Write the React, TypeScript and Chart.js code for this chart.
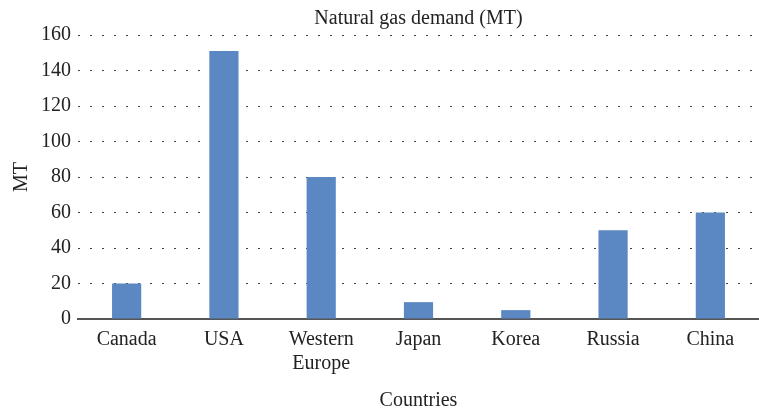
import React, { useEffect, useRef } from "react";
import { Chart, registerables } from "chart.js";

Chart.register(...registerables);

const categories: (string | string[])[] = ["Canada", "USA", ["Western", "Europe"], "Japan", "Korea", "Russia", "China"];
const demandValues = [20, 151, 80, 9.5, 5, 50, 60];
const chartTitle = "Natural gas demand (MT)";
const xTitle = "Countries";
const yTitle = "MT";

const FONT = "'Liberation Serif', 'DejaVu Serif', serif";

export default function App() {
  const ref = useRef<HTMLCanvasElement | null>(null);
  useEffect(() => {
    if (!ref.current) return;
    const chart = new Chart(ref.current, {
      type: "bar",
      data: {
        labels: categories as any,
        datasets: [
          {
            label: "Demand",
            data: demandValues,
            backgroundColor: "#5b87c3",
            borderWidth: 0,
            barPercentage: 0.3,
            categoryPercentage: 1,
          },
        ],
      },
      options: {
        responsive: false,
        animation: false,
        maintainAspectRatio: false,
        layout: { padding: { left: 10, right: 0, top: 7, bottom: 0 } },
        plugins: {
          legend: { display: false },
          tooltip: { enabled: false },
          title: { display: false },
        },
        scales: {
          x: {
            position: "bottom",
            grid: { display: false, drawTicks: false },
            border: { display: true, color: "#555", width: 2 },
            ticks: {
              color: "#222",
              font: { family: FONT, size: 20 },
              padding: 9,
              maxRotation: 0,
              autoSkip: false,
            },
            title: {
              display: true,
              text: xTitle,
              color: "#222",
              font: { family: FONT, size: 20 },
              padding: { top: 4, bottom: 0 },
            },
          },
          x2: {
            position: "top",
            type: "category",
            grid: { display: false, drawTicks: false },
            border: { display: false },
            ticks: { display: false },
            title: {
              display: true,
              text: chartTitle,
              color: "#222",
              font: { family: FONT, size: 20 },
              padding: { top: 0, bottom: 4 },
            },
          },
          y: {
            min: 0,
            max: 160,
            ticks: {
              stepSize: 20,
              color: "#222",
              font: { family: FONT, size: 20 },
              padding: 7,
            },
            grid: {
              color: "#444",
              lineWidth: 1,
              drawTicks: false,
            },
            border: { display: false, dash: [2, 10] },
            title: {
              display: true,
              text: yTitle,
              color: "#222",
              font: { family: FONT, size: 20 },
              padding: { top: 0, bottom: 0 },
            },
          },
        },
      },
    });
    return () => chart.destroy();
  }, []);
  return (
    <div style={{ position: "fixed", left: 0, top: 0, width: 759, height: 413, background: "#fff" }}>
      <canvas ref={ref} width={759} height={413} style={{ width: 759, height: 413 }} />
    </div>
  );
}
